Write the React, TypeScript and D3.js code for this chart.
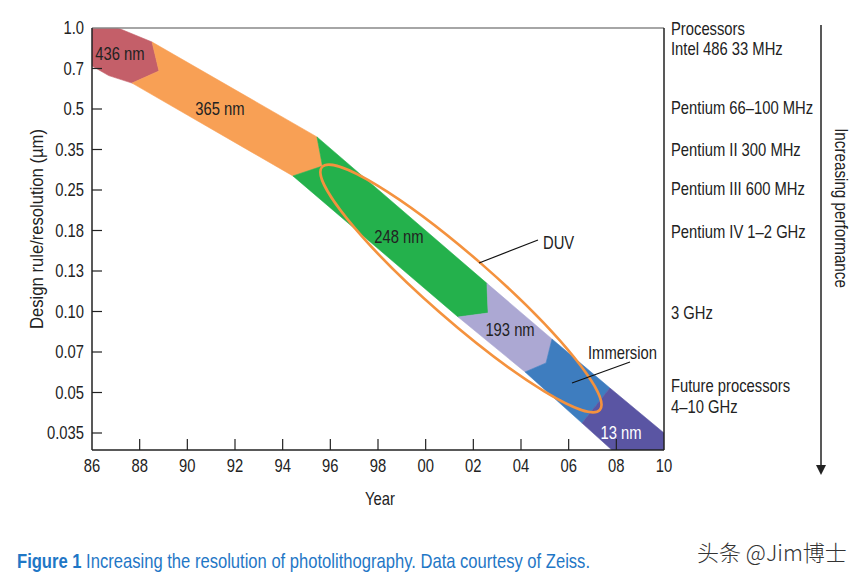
import React from "react";
import * as d3 from "d3";

const yearTicks = [1986, 1988, 1990, 1992, 1994, 1996, 1998, 2000, 2002, 2004, 2006, 2008, 2010];
const resTicks = [1.0, 0.7, 0.5, 0.35, 0.25, 0.18, 0.13, 0.1, 0.07, 0.05, 0.035];
const resTickLabels = ["1.0", "0.7", "0.5", "0.35", "0.25", "0.18", "0.13", "0.10", "0.07", "0.05", "0.035"];

// Wavelength regions as polygons in (year, µm)
const band436: [number, number][] = [
  [1986, 1.0], [1987.09, 1.0], [1988.52, 0.884], [1988.81, 0.686], [1987.68, 0.62], [1986.7, 0.66], [1986, 0.716],
];
const band365: [number, number][] = [
  [1988.52, 0.884], [1995.44, 0.391], [1995.67, 0.305], [1994.43, 0.281], [1987.68, 0.62], [1988.81, 0.686],
];
const band248: [number, number][] = [
  [1995.44, 0.391], [2002.57, 0.12], [2002.62, 0.0987], [2001.36, 0.0953], [1994.43, 0.281], [1995.67, 0.305],
];
const band193: [number, number][] = [
  [2002.57, 0.12], [2005.3, 0.0785], [2005.05, 0.0639], [2004.17, 0.0593], [2001.36, 0.0953], [2002.62, 0.0987],
];
const bandImm: [number, number][] = [
  [2005.3, 0.0785], [2007.73, 0.0519], [2006.56, 0.0382], [2004.17, 0.0593], [2005.05, 0.0639],
];
const band13: [number, number][] = [
  [2007.73, 0.0519], [2010, 0.035], [2010, 0.0301], [2007.82, 0.0301], [2006.56, 0.0382],
];

const bands = [
  { name: "436 nm", pts: band436, color: "#c45f69", label: [1987.17, 0.8], text: "#222" },
  { name: "365 nm", pts: band365, color: "#f8a055", label: [1991.37, 0.5], text: "#222" },
  { name: "248 nm", pts: band248, color: "#24b14c", label: [1998.88, 0.171], text: "#222" },
  { name: "193 nm", pts: band193, color: "#aca8d3", label: [2003.54, 0.085], text: "#222" },
  { name: "", pts: bandImm, color: "#3e7dbf", label: [0, 0], text: "#222" },
  { name: "13 nm", pts: band13, color: "#5a55a3", label: [2008.2, 0.035], text: "#fff" },
];

// DUV ellipse tips (year, µm)
const duvTips: [number, number][] = [[1995.65, 0.3026], [2007.31, 0.0429]];

const processorLabels = [
  { lines: ["Processors", "Intel 486 33 MHz"], res: 1.0, dy: [1, 21] },
  { lines: ["Pentium 66–100 MHz"], res: 0.5, dy: [-1] },
  { lines: ["Pentium II 300 MHz"], res: 0.35, dy: [0] },
  { lines: ["Pentium III 600 MHz"], res: 0.25, dy: [-1] },
  { lines: ["Pentium IV 1–2 GHz"], res: 0.18, dy: [1] },
  { lines: ["3 GHz"], res: 0.1, dy: [1] },
  { lines: ["Future processors", "4–10 GHz"], res: 0.05, dy: [-7, 14] },
];

const FONT = "'Liberation Sans', Arial, sans-serif";
const SX = 0.845;

type TProps = {
  x: number;
  y: number;
  size?: number;
  sx?: number;
  rot?: number;
  anchor?: "start" | "middle" | "end";
  fill?: string;
  children: React.ReactNode;
  weight?: string | number;
  family?: string;
};

function T({ x, y, size = 17.5, sx = SX, rot = 0, anchor = "start", fill = "#222", children, weight, family }: TProps) {
  return (
    <text
      transform={`translate(${x},${y}) rotate(${rot}) scale(${sx},1)`}
      textAnchor={anchor}
      dominantBaseline="central"
      fontSize={size}
      fill={fill}
      fontWeight={weight}
      fontFamily={family}
    >
      {children}
    </text>
  );
}

export default function App() {
  const W = 865, H = 579;
  const left = 92, right = 664, top = 28, bottom = 450;
  const x = d3.scaleLinear().domain([1986, 2010]).range([left, right]);
  const step = (433 - top) / (resTicks.length - 1);
  const y = d3
    .scaleLinear()
    .domain(resTicks.map((v) => Math.log(v)))
    .range(resTicks.map((_, i) => top + i * step));
  const Y = (v: number) => y(Math.log(v));
  const line = d3
    .line<[number, number]>()
    .x((d) => x(d[0]))
    .y((d) => Y(d[1]));

  const [t0, t1] = duvTips;
  const p0 = [x(t0[0]), Y(t0[1])];
  const p1 = [x(t1[0]), Y(t1[1])];
  const cx = (p0[0] + p1[0]) / 2, cy = (p0[1] + p1[1]) / 2;
  const rx = Math.hypot(p1[0] - p0[0], p1[1] - p0[1]) / 2;
  const ang = (Math.atan2(p1[1] - p0[1], p1[0] - p0[0]) * 180) / Math.PI;

  return (
    <svg width={W} height={H} style={{ display: "block", position: "absolute", left: 0, top: 0, background: "#fff" }} fontFamily={FONT}>
      <defs>
        <clipPath id="plot">
          <rect x={left} y={top} width={right - left} height={bottom - top} />
        </clipPath>
      </defs>
      <g clipPath="url(#plot)">
        {bands.map((b, i) => (
          <path key={i} d={line(b.pts) + "Z"} fill={b.color} stroke={b.color} strokeWidth={0.6} />
        ))}
      </g>
      {/* DUV ellipse */}
      <ellipse cx={cx} cy={cy} rx={rx} ry={32} transform={`rotate(${ang} ${cx} ${cy})`} fill="none" stroke="#f4923e" strokeWidth={2.6} />
      {bands.filter((b) => b.name).map((b, i) => (
        <T key={i} x={x(b.label[0])} y={Y(b.label[1])} anchor="middle" fill={b.text}>
          {b.name}
        </T>
      ))}
      {/* callouts */}
      <line x1={479} y1={263} x2={538} y2={240} stroke="#111" strokeWidth={1.2} />
      <T x={543} y={243}>DUV</T>
      <line x1={572} y1={383} x2={630} y2={362} stroke="#111" strokeWidth={1.2} />
      <T x={588} y={353}>Immersion</T>

      {/* frame */}
      <line x1={left} y1={top} x2={right} y2={top} stroke="#888" strokeWidth={1.5} />
      <line x1={right} y1={top} x2={right} y2={bottom} stroke="#222" strokeWidth={1.5} />
      <line x1={left} y1={top} x2={left} y2={bottom} stroke="#222" strokeWidth={1.5} />
      <line x1={left} y1={bottom} x2={right} y2={bottom} stroke="#222" strokeWidth={1.5} />
      {resTicks.map((v, i) => (
        <g key={i}>
          {i > 0 && <line x1={left} x2={left + 10} y1={Y(v)} y2={Y(v)} stroke="#222" strokeWidth={1.2} />}
          <T x={left - 8} y={Y(v)} anchor="end">
            {resTickLabels[i]}
          </T>
        </g>
      ))}
      {yearTicks.map((t, i) => (
        <g key={i}>
          {i > 0 && i < yearTicks.length - 1 && (
            <line x1={x(t)} x2={x(t)} y1={bottom} y2={bottom - 11} stroke="#222" strokeWidth={1.2} />
          )}
          <T x={x(t)} y={466} anchor="middle">
            {String(t).slice(2)}
          </T>
        </g>
      ))}
      <T x={380} y={499} anchor="middle">Year</T>
      <T x={37} y={229} rot={-90} anchor="middle" size={18.5} sx={0.9}>
        Design rule/resolution (µm)
      </T>

      {/* processor labels */}
      {processorLabels.map((p, i) => (
        <g key={i}>
          {p.lines.map((l, j) => (
            <T key={j} x={671} y={Y(p.res) + p.dy[j]}>
              {l}
            </T>
          ))}
        </g>
      ))}
      <line x1={821} y1={25} x2={821} y2={468} stroke="#222" strokeWidth={1.5} />
      <path d="M816,465 L821,475 L826,465 Z" fill="#222" />
      <T x={841} y={208} rot={90} anchor="middle" size={18}>
        Increasing performance
      </T>

      {/* caption */}
      <text transform={`translate(17,560) scale(0.83,1)`} dominantBaseline="central" fontSize={20} fill="#1f77c6">
        <tspan fontWeight="bold">Figure 1</tspan>
        <tspan> Increasing the resolution of photolithography. Data courtesy of Zeiss.</tspan>
      </text>
      <text x={697} y={551} dominantBaseline="central" fontSize={22} fill="#333" fontFamily="'Noto Sans CJK SC', sans-serif" fontWeight={300}>
        头条 @Jim博士
      </text>
    </svg>
  );
}
